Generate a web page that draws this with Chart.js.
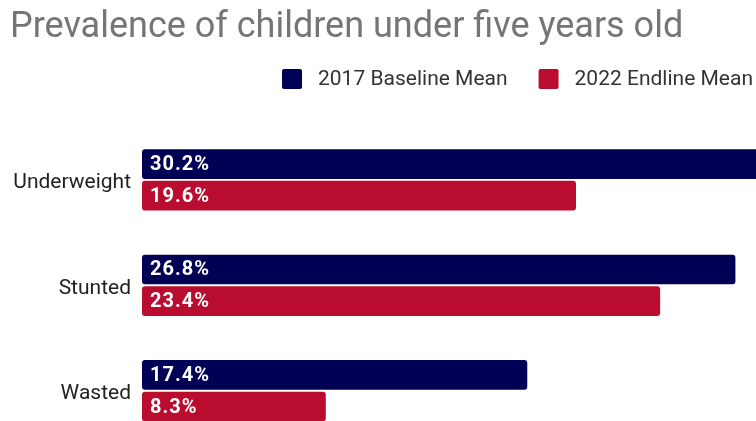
<!DOCTYPE html>
<html>
<head>
<meta charset="utf-8">
<script src="https://cdn.jsdelivr.net/npm/chart.js@4"></script>
<style>
  html, body { margin: 0; padding: 0; background: #fff; overflow: hidden; }
  canvas { display: block; }
</style>
</head>
<body>
<!-- taller than the window so the last pair of bars runs off the bottom -->
<canvas id="prevalenceChart" width="756" height="467"></canvas>
<script>
const categories = ['Underweight', 'Stunted', 'Wasted'];
const baseline2017 = [30.2, 26.8, 17.4];
const endline2022 = [19.6, 23.4, 8.3];
const seriesNames = ['2017 Baseline Mean', '2022 Endline Mean'];
const seriesColors = ['#000055', '#ba0c2f'];

// value labels inside the start of every bar
const barLabels = {
    id: 'barLabels',
    afterDatasetsDraw(chart) {
        const ctx = chart.ctx;
        ctx.save();
        ctx.fillStyle = '#ffffff';
        ctx.font = 'bold 20px Roboto';
        ctx.letterSpacing = '1px';
        ctx.textAlign = 'left';
        ctx.textBaseline = 'middle';
        chart.data.datasets.forEach((ds, i) => {
            chart.getDatasetMeta(i).data.forEach((bar, j) => {
                ctx.fillText(ds.data[j].toFixed(1) + '%', bar.base + 8, bar.y + 1);
            });
        });
        ctx.restore();
    }
};

// legend row under the title, right aligned to the canvas edge
const topLegend = {
    id: 'topLegend',
    afterDraw(chart) {
        const ctx = chart.ctx;
        const ds = chart.data.datasets;
        const y = 79;
        let right = chart.width - 3;
        ctx.save();
        ctx.font = '21px Roboto';
        ctx.textBaseline = 'middle';
        ctx.textAlign = 'left';
        for (let i = ds.length - 1; i >= 0; i--) {
            const w = ctx.measureText(ds[i].label).width;
            const tx = right - w;
            ctx.fillStyle = '#333333';
            ctx.fillText(ds[i].label, tx, y + 1);
            const bx = tx - 16 - 20;
            ctx.fillStyle = ds[i].backgroundColor;
            ctx.beginPath();
            ctx.roundRect(bx, y - 10, 20, 20, 2);
            ctx.fill();
            right = bx - 31;
        }
        ctx.restore();
    }
};

const ctx = document.getElementById('prevalenceChart').getContext('2d');
new Chart(ctx, {
    type: 'bar',
    data: {
        labels: categories,
        datasets: [
            {
                label: seriesNames[0],
                data: baseline2017,
                backgroundColor: seriesColors[0],
                borderRadius: 3,
                borderSkipped: false,
                categoryPercentage: 0.6,
                barPercentage: 0.94
            },
            {
                label: seriesNames[1],
                data: endline2022,
                backgroundColor: seriesColors[1],
                borderRadius: 3,
                borderSkipped: false,
                categoryPercentage: 0.6,
                barPercentage: 0.94
            }
        ]
    },
    options: {
        indexAxis: 'y',
        responsive: false,
        animation: false,
        layout: { padding: { left: 10, right: 0, top: 0, bottom: 0 } },
        plugins: {
            title: {
                display: true,
                text: 'Prevalence of children under five years old',
                align: 'start',
                color: '#757575',
                font: { family: 'Roboto', size: 36, weight: 'normal', lineHeight: 1.2 },
                padding: { top: 6, bottom: 78 }
            },
            legend: { display: false },
            tooltip: { enabled: false }
        },
        scales: {
            x: {
                display: false,
                min: 0,
                max: 27.73
            },
            y: {
                grid: { display: false, drawTicks: false },
                border: { display: false },
                ticks: {
                    color: '#222222',
                    font: { family: 'Roboto', size: 21 },
                    padding: 11,
                    labelOffset: 3
                },
                afterFit(scale) { scale.width = 132; }
            }
        }
    },
    plugins: [barLabels, topLegend]
});
</script>
</body>
</html>
